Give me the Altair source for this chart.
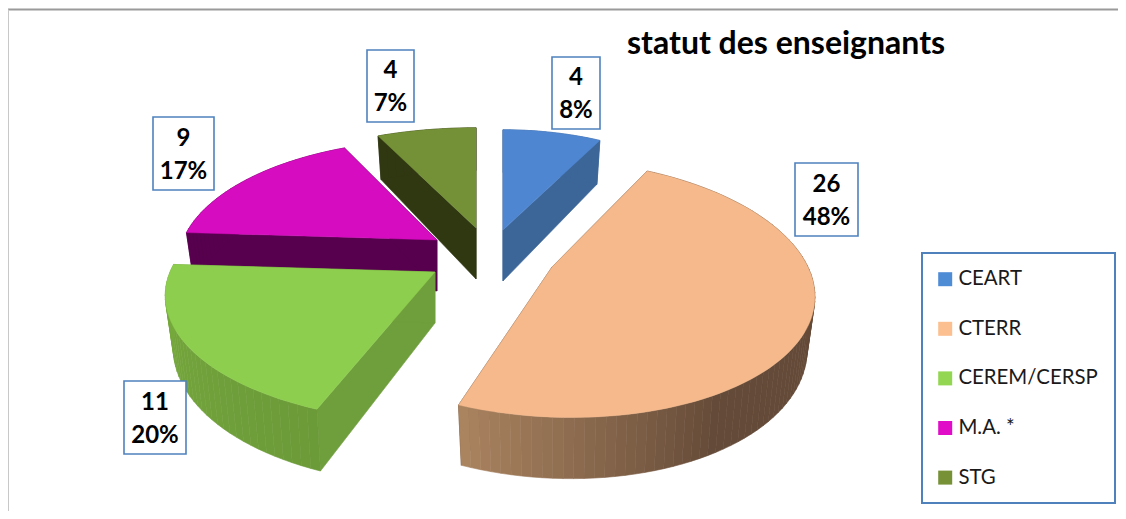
import math
import altair as alt
import pandas as pd

# ---- values
categories = ["CEART", "CTERR", "CEREM/CERSP", "M.A. *", "STG"]
counts = [4, 26, 11, 9, 4]
percents = [8, 48, 20, 17, 7]

# ---- styles and layout (page pixels)
legend_colors = ["#4f8cd6", "#fcbf8f", "#93d651", "#e00cc8", "#779137"]
top_colors = ["#4f86d1", "#f5b98b", "#8dce4e", "#d60cc0", "#749138"]
cut_colors = ["#3d6698", "#664b39", "#6f9e3c", "#57004e", "#303812"]
apex = [(503, 230), (552, 267), (435, 272), (437, 240), (476, 228)]
radius_x = [234, 256, 265, 254, 269]
shear = [0, 0.13, 0, 0, 0]
persp_q = [119, 125.5, 122, 119, 119]
persp_k = [0.187, 0.166, 0.187, 0.187, 0.187]
label_boxes = [(552, 57, 600, 129), (795, 163, 858, 236), (124, 381, 186, 454),
               (153, 117, 214, 190), (367, 50, 414, 122)]
legend_box = (922, 253, 1115, 503)
DEPTH, SHRINK = 51, 0.97


def mix(c1, c2, t):
    a = [int(c1[i:i + 2], 16) for i in (1, 3, 5)]
    b = [int(c2[i:i + 2], 16) for i in (1, 3, 5)]
    return "#" + "".join(f"{round(x + (y - x) * t):02x}" for x, y in zip(a, b))


def rim_color(i, deg):
    if i == 1:   # CTERR: dark on the right, lighter towards the left end
        return mix("#644a38", "#ab8460", max(0, (deg - 150) / 51.6))
    if i == 2:   # CEREM: slightly lighter towards the left
        return mix("#6b9a38", "#78ab3e", (deg - 201.6) / 72)
    return cut_colors[i]


def project(i, deg, t=1.0):
    a = math.radians(deg)
    u, v = t * math.sin(a), t * math.cos(a)
    w = 1 + persp_k[i] * v
    dy = -persp_q[i] * v / w
    x = apex[i][0] + radius_x[i] * u / w + shear[i] * dy
    return x, apex[i][1] + dy, w


def low(i, p):
    x, y, w = p
    return [apex[i][0] + (x - apex[i][0]) * SHRINK, y + DEPTH / w]


def feature(coords, name, fill):
    ring = [list(c) for c in coords]
    ring.append(ring[0])
    return {"type": "Feature", "properties": {"name": name, "fill": fill},
            "geometry": {"type": "Polygon", "coordinates": [ring]}}


sides, tops = [], []
edges = [0]
for p in percents:
    edges.append(edges[-1] + p * 3.6)
for i in [4, 0, 1, 3, 2]:
    a0, a1 = edges[i], edges[i + 1]
    n = max(2, int((a1 - a0) / 2))
    degs = [a0 + (a1 - a0) * k / n for k in range(n + 1)]
    rim = [project(i, d) for d in degs]
    centre = (apex[i][0], apex[i][1], 1.0)
    name = categories[i]
    for r in (rim[0], rim[-1]):
        sides.append(feature([centre[:2], r[:2], low(i, r), low(i, centre)], name, cut_colors[i]))
    for k in range(n):
        sides.append(feature([rim[k][:2], rim[k + 1][:2], low(i, rim[k + 1]), low(i, rim[k])],
                             name, rim_color(i, (degs[k] + degs[k + 1]) / 2)))
    tops.append(feature([centre[:2]] + [r[:2] for r in rim], name, top_colors[i]))

proj = dict(type="identity", scale=1, translate=[-8, -8])
fill_enc = alt.Fill("properties.fill:N", scale=None, legend=None)
stroke_enc = alt.Stroke("properties.fill:N", scale=None, legend=None)

side_layer = alt.Chart(alt.Data(values=sides)).mark_geoshape(strokeWidth=0.6).encode(
    fill=fill_enc, stroke=stroke_enc).project(**proj)
top_layer = alt.Chart(alt.Data(values=tops)).mark_geoshape(strokeWidth=0.4).encode(
    fill=fill_enc, stroke=stroke_enc).project(**proj)
legend_layer = alt.Chart(alt.Data(values=tops)).mark_geoshape(opacity=0).encode(
    color=alt.Color("properties.name:N", sort=categories,
                    scale=alt.Scale(domain=categories, range=legend_colors),
                    legend=alt.Legend(title=None, orient="none", legendX=927, legendY=261,
                                      symbolType="square", symbolSize=196, symbolOpacity=1,
                                      symbolStrokeWidth=0, labelFont="Lato", labelFontSize=20.4,
                                      labelColor="#1a1a1a", labelOffset=3, rowPadding=28.6,
                                      padding=0, labelLimit=200))).project(**proj)

boxes = pd.DataFrame({
    "x": [b[0] - 8 for b in label_boxes], "x2": [b[2] - 8 for b in label_boxes],
    "y": [b[1] - 8 for b in label_boxes], "y2": [b[3] - 8 for b in label_boxes],
    "count": [str(c) for c in counts], "pct": [f"{p}%" for p in percents],
})
boxes["cx"] = (boxes.x + boxes.x2) / 2
boxes["cy1"] = (boxes.y + boxes.y2) / 2 - 15
boxes["cy2"] = (boxes.y + boxes.y2) / 2 + 18

px = lambda f: alt.X(f, scale=None)
py = lambda f: alt.Y(f, scale=None)
box_layer = alt.Chart(boxes).mark_rect(fill="white", stroke="#4f81bd", strokeWidth=1.6).encode(
    x=px("x:Q"), x2="x2:Q", y=py("y:Q"), y2="y2:Q")
txt = dict(font="Lato", fontWeight="bold", fontSize=24, color="#000000",
           align="center", baseline="middle")
count_layer = alt.Chart(boxes).mark_text(**txt).encode(x=px("cx:Q"), y=py("cy1:Q"), text="count:N")
pct_layer = alt.Chart(boxes).mark_text(**txt).encode(x=px("cx:Q"), y=py("cy2:Q"), text="pct:N")

legend_frame = pd.DataFrame({"x": [legend_box[0] - 8], "x2": [legend_box[2] - 8],
                             "y": [legend_box[1] - 8], "y2": [legend_box[3] - 8]})
legend_frame_layer = alt.Chart(legend_frame).mark_rect(
    fillOpacity=0, stroke="#4f81bd", strokeWidth=2).encode(
    x=px("x:Q"), x2="x2:Q", y=py("y:Q"), y2="y2:Q")

title_layer = alt.Chart(pd.DataFrame({"t": ["statut des enseignants"], "x": [619], "y": [36]})).mark_text(
    font="Lato", fontWeight="bold", fontSize=32, color="#000000", align="left", baseline="middle"
).encode(x=px("x:Q"), y=py("y:Q"), text="t:N")

frame = pd.DataFrame({"x": [0, 0], "x2": [1110, 0], "y": [1.5, 1.5], "y2": [1.5, 503],
                      "c": ["#9a9a9a", "#c8c8c8"]})
frame_layer = alt.Chart(frame).mark_rule(strokeWidth=2).encode(
    x=px("x:Q"), x2="x2:Q", y=py("y:Q"), y2="y2:Q", color=alt.Color("c:N", scale=None, legend=None))

chart = alt.layer(frame_layer, legend_layer, side_layer, top_layer, box_layer,
                  count_layer, pct_layer, legend_frame_layer, title_layer).resolve_scale(
    fill="independent", stroke="independent", color="independent"
).properties(
    width=1110, height=503, padding=0, autosize=alt.AutoSizeParams(type="none"),
    background="white"
).configure_view(stroke=None)

chart.save("out.html", embed_options={"renderer": "svg", "actions": False})
